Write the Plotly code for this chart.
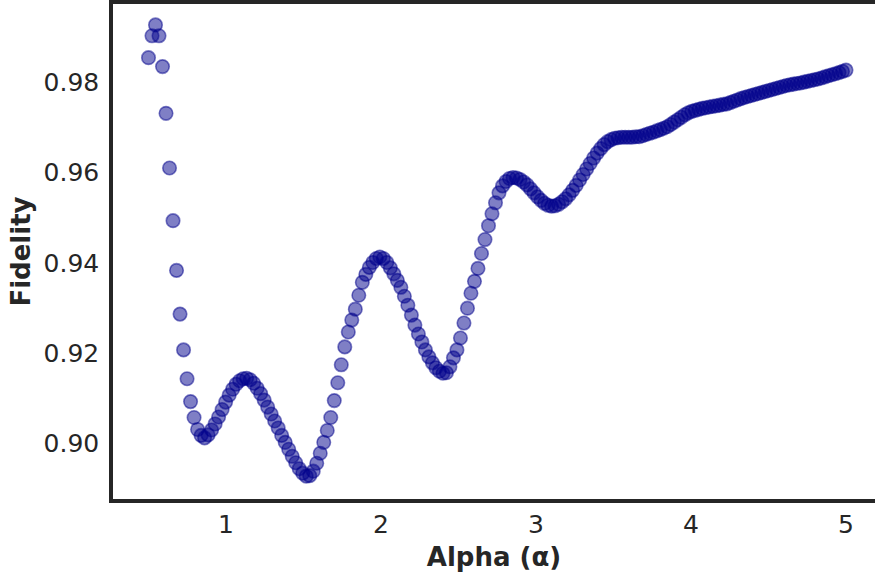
import numpy as np
import plotly.graph_objects as go

# Alpha grid (200 evenly spaced values from 0.5 to 5.0)
alpha = np.linspace(0.5, 5.0, 200)

# Fidelity values
fidelity = [
    0.98551, 0.99036, 0.99278, 0.99036, 0.98353, 0.97317, 0.96105, 0.94937, 0.93835, 0.92865,
    0.92072, 0.91432, 0.90925, 0.90573, 0.90308, 0.90176, 0.90121, 0.90187, 0.90297, 0.90430,
    0.90584, 0.90749, 0.90914, 0.91069, 0.91201, 0.91311, 0.91388, 0.91432, 0.91443, 0.91410,
    0.91333, 0.91223, 0.91102, 0.90959, 0.90804, 0.90650, 0.90496, 0.90341, 0.90176, 0.90022,
    0.89868, 0.89713, 0.89570, 0.89438, 0.89339, 0.89273, 0.89284, 0.89383, 0.89559, 0.89780,
    0.90022, 0.90286, 0.90573, 0.90948, 0.91344, 0.91741, 0.92138, 0.92468, 0.92733, 0.92975,
    0.93284, 0.93570, 0.93746, 0.93901, 0.94011, 0.94099, 0.94132, 0.94099, 0.94011, 0.93890,
    0.93758, 0.93614, 0.93460, 0.93262, 0.93063, 0.92843, 0.92622, 0.92424, 0.92248, 0.92072,
    0.91917, 0.91785, 0.91675, 0.91598, 0.91554, 0.91565, 0.91697, 0.91895, 0.92072, 0.92336,
    0.92667, 0.92997, 0.93328, 0.93592, 0.93879, 0.94209, 0.94518, 0.94826, 0.95091, 0.95333,
    0.95554, 0.95708, 0.95807, 0.95873, 0.95895, 0.95884, 0.95851, 0.95796, 0.95730, 0.95642,
    0.95554, 0.95465, 0.95388, 0.95322, 0.95278, 0.95256, 0.95267, 0.95300, 0.95355, 0.95421,
    0.95510, 0.95609, 0.95719, 0.95840, 0.95961, 0.96083, 0.96204, 0.96325, 0.96435, 0.96534,
    0.96623, 0.96689, 0.96733, 0.96766, 0.96777, 0.96788, 0.96788, 0.96788, 0.96788, 0.96799,
    0.96799, 0.96821, 0.96847, 0.96874, 0.96898, 0.96927, 0.96955, 0.96986, 0.97019, 0.97070,
    0.97123, 0.97174, 0.97229, 0.97284, 0.97328, 0.97361, 0.97383, 0.97405, 0.97427, 0.97442,
    0.97458, 0.97471, 0.97484, 0.97498, 0.97515, 0.97526, 0.97555, 0.97586, 0.97614, 0.97643,
    0.97669, 0.97691, 0.97713, 0.97736, 0.97758, 0.97780, 0.97802, 0.97824, 0.97846, 0.97868,
    0.97890, 0.97912, 0.97934, 0.97949, 0.97965, 0.97978, 0.97991, 0.98009, 0.98026, 0.98044,
    0.98062, 0.98079, 0.98101, 0.98126, 0.98150, 0.98172, 0.98196, 0.98220, 0.98247, 0.98275,
]

x_ticks = [1, 2, 3, 4, 5]
y_ticks = [0.90, 0.92, 0.94, 0.96, 0.98]
y_tick_labels = ["0.90", "0.92", "0.94", "0.96", "0.98"]

FONT = "DejaVu Sans"
DARK = "#262626"

fig = go.Figure()
fig.add_trace(go.Scatter(
    x=alpha, y=fidelity, mode="markers",
    marker=dict(size=13.5, color="rgba(0,0,139,0.5)",
                line=dict(color="rgba(0,0,139,0.5)", width=1.6)),
    showlegend=False,
))

fig.update_layout(
    width=875, height=576,
    margin=dict(l=113, r=0, t=1, b=77),
    paper_bgcolor="white", plot_bgcolor="white",
    font=dict(family=FONT, color=DARK, size=25),
)
fig.update_xaxes(
    range=[0.27097, 5.18710], tickvals=x_ticks, ticktext=[str(t) for t in x_ticks],
    showgrid=False, zeroline=False, ticks="", ticklabelstandoff=0,
    showline=True, linewidth=3.5, linecolor=DARK, mirror=True,
    tickfont=dict(size=25, color=DARK),
    title=dict(text="Alpha (α)", font=dict(size=26, weight="bold", color=DARK), standoff=11),
)
fig.update_yaxes(
    range=[0.88766, 0.99741], tickvals=y_ticks, ticktext=y_tick_labels,
    showgrid=False, zeroline=False, ticks="", ticklabelstandoff=5,
    showline=True, linewidth=3.5, linecolor=DARK, mirror=False,
    tickfont=dict(size=25, color=DARK),
    title=dict(text="Fidelity", font=dict(size=26, weight="bold", color=DARK), standoff=6),
)

fig.write_html("out.html")
